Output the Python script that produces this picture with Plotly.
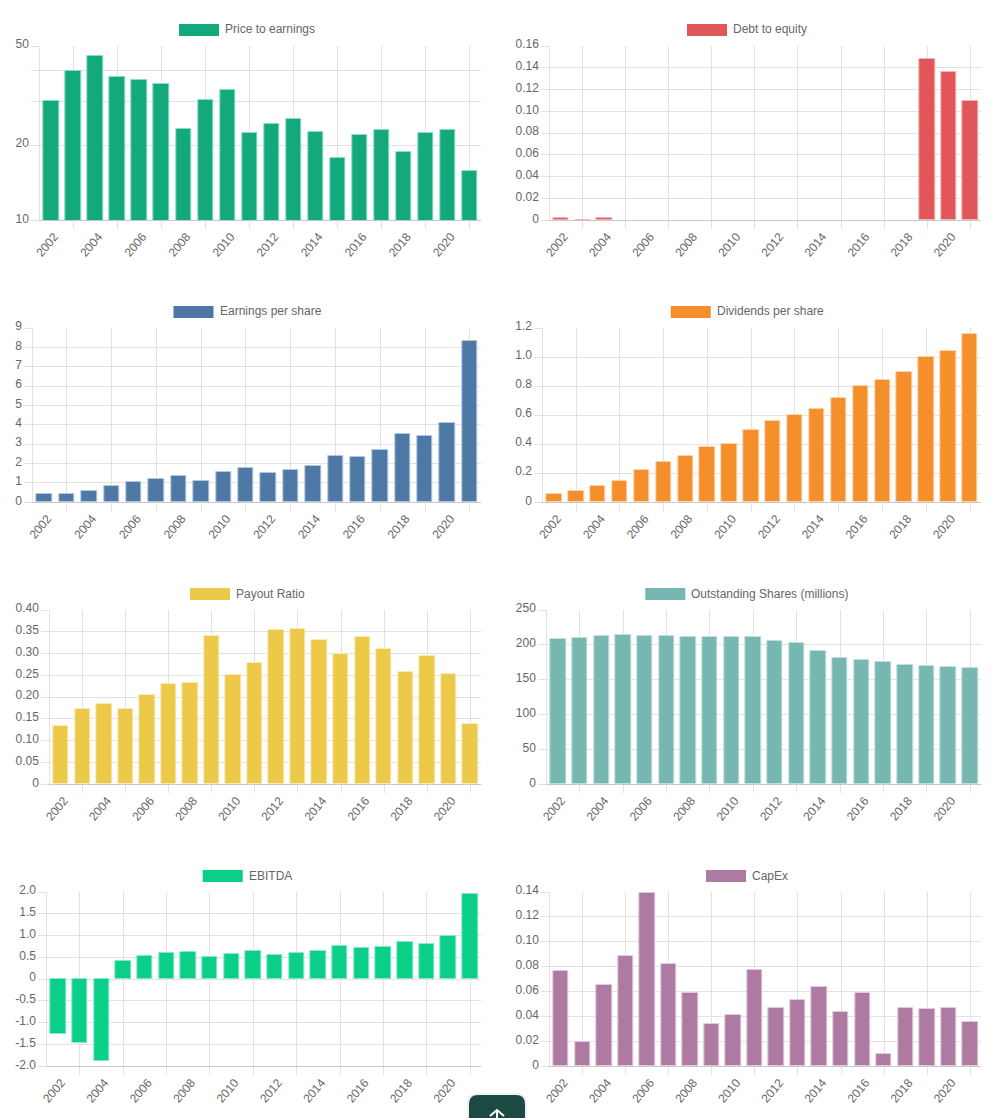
import math
import plotly.graph_objects as go

W, H = 996, 1118
years = list(range(2002, 2022))
grid_years = [y for y in years if y % 2 == 1]
label_years = [y for y in years if y % 2 == 0]
label_text = [str(y) for y in label_years]

price_to_earnings = [30.1, 39.7, 45.7, 37.7, 36.6, 35.2, 23.2, 30.5, 33.4, 22.4,
                     24.3, 25.5, 22.6, 17.8, 22.0, 23.1, 18.8, 22.3, 23.0, 15.8]
debt_to_equity = [0.002, 0.0004, 0.0024, 0, 0, 0, 0, 0, 0, 0,
                  0, 0, 0, 0, 0, 0, 0, 0.148, 0.136, 0.1098]
earnings_per_share = [0.41, 0.43, 0.56, 0.84, 1.05, 1.20, 1.36, 1.08, 1.57, 1.77,
                      1.53, 1.65, 1.86, 2.38, 2.33, 2.69, 3.52, 3.41, 4.09, 8.35]
dividends_per_share = [0.06, 0.08, 0.11, 0.15, 0.22, 0.28, 0.32, 0.38, 0.40, 0.50,
                       0.56, 0.60, 0.64, 0.72, 0.80, 0.84, 0.90, 1.00, 1.04, 1.16]
payout_ratio = [0.134, 0.172, 0.185, 0.173, 0.205, 0.230, 0.232, 0.341, 0.250, 0.278,
                0.355, 0.356, 0.332, 0.299, 0.337, 0.311, 0.257, 0.294, 0.254, 0.138]
outstanding_shares = [207.7, 209.6, 213, 213.5, 212.5, 212.5, 211.6, 211.6, 211.6, 211.6,
                      205.8, 202, 191, 181.8, 179, 176, 170.8, 169, 168.4, 166.5]
ebitda = [-1.26, -1.47, -1.885, 0.408, 0.528, 0.593, 0.624, 0.501, 0.578, 0.655,
          0.563, 0.593, 0.638, 0.762, 0.708, 0.748, 0.846, 0.816, 0.988, 1.955]
capex = [0.0769, 0.0198, 0.0654, 0.089, 0.1388, 0.082, 0.0589, 0.034, 0.0415, 0.0777,
         0.0471, 0.053, 0.064, 0.0436, 0.0587, 0.0101, 0.0471, 0.0461, 0.0471, 0.0359]

pe_ticks = [10, 20, 30, 40, 50]
pe_labels = ["10", "20", "", "", "50"]
de_ticks = [0, 0.02, 0.04, 0.06, 0.08, 0.10, 0.12, 0.14, 0.16]
de_labels = ["0", "0.02", "0.04", "0.06", "0.08", "0.10", "0.12", "0.14", "0.16"]
eps_ticks = [0, 1, 2, 3, 4, 5, 6, 7, 8, 9]
eps_labels = [str(v) for v in eps_ticks]
dps_ticks = [0, 0.2, 0.4, 0.6, 0.8, 1.0, 1.2]
dps_labels = ["0", "0.2", "0.4", "0.6", "0.8", "1.0", "1.2"]
payout_ticks = [0, 0.05, 0.10, 0.15, 0.20, 0.25, 0.30, 0.35, 0.40]
payout_labels = ["0", "0.05", "0.10", "0.15", "0.20", "0.25", "0.30", "0.35", "0.40"]
shares_ticks = [0, 50, 100, 150, 200, 250]
shares_labels = [str(v) for v in shares_ticks]
ebitda_ticks = [-2, -1.5, -1, -0.5, 0, 0.5, 1, 1.5, 2]
ebitda_labels = ["-2.0", "-1.5", "-1.0", "-0.5", "0", "0.5", "1.0", "1.5", "2.0"]
capex_ticks = [0, 0.02, 0.04, 0.06, 0.08, 0.10, 0.12, 0.14]
capex_labels = ["0", "0.02", "0.04", "0.06", "0.08", "0.10", "0.12", "0.14"]

FONT = "Liberation Sans"
TEXT = "#666666"
GRID = "#e2e2e2"
BASE = "#c8c8c8"

charts = [
    dict(name="Price to earnings", v=price_to_earnings, t=pe_ticks, l=pe_labels, color="#13a97d", edge="#8fdcc5", left=40.3, right=481, row=0, sw=179, log=True, r=[10, 50]),
    dict(name="Debt to equity", v=debt_to_equity, t=de_ticks, l=de_labels, color="#e15759", edge="#f2b3b4", left=550.3, right=981, row=0, sw=687, r=[0, 0.16]),
    dict(name="Earnings per share", v=earnings_per_share, t=eps_ticks, l=eps_labels, color="#4e79a7", edge="#b4c8dc", left=33.3, right=481, row=1, sw=173.5, r=[0, 9]),
    dict(name="Dividends per share", v=dividends_per_share, t=dps_ticks, l=dps_labels, color="#f48f2c", edge="#fbd3ac", left=543.3, right=981, row=1, sw=670.7, r=[0, 1.2]),
    dict(name="Payout Ratio", v=payout_ratio, t=payout_ticks, l=payout_labels, color="#ecc948", edge="#f8ebbc", left=50.3, right=481, row=2, sw=190, r=[0, 0.40]),
    dict(name="Outstanding Shares (millions)", v=outstanding_shares, t=shares_ticks, l=shares_labels, color="#76b7b2", edge="#c4e0dd", left=547.3, right=981, row=2, sw=645.3, r=[0, 250]),
    dict(name="EBITDA", v=ebitda, t=ebitda_ticks, l=ebitda_labels, color="#0bcf89", edge="#8aeac8", left=47.3, right=481, row=3, sw=202.7, r=[-2, 2]),
    dict(name="CapEx", v=capex, t=capex_ticks, l=capex_labels, color="#af7aa1", edge="#e0cbdb", left=550.3, right=981, row=3, sw=706, r=[0, 0.14]),
]


def px(x):
    return x / W


def py(y):
    return 1 - y / H


fig = go.Figure()
layout = {}
shapes = []
annotations = []

for i, c in enumerate(charts):
    top = 46 + 282 * c["row"]
    bottom = top + 174.3
    n_main = 2 * i + 1
    n_lab = 2 * i + 2
    cat_px = (c["right"] - c["left"]) / len(years)
    xs = "x" if n_main == 1 else f"x{n_main}"
    ys = "y" if i == 0 else f"y{i + 1}"
    xl = f"x{n_lab}"
    dom_x = [px(c["left"]), px(c["right"])]
    dom_y = [py(bottom), py(top)]
    xrange_ = [years[0] - 0.5, years[-1] + 0.5]

    fig.add_trace(go.Bar(
        x=years, y=[v if v else None for v in c["v"]], xaxis=xs, yaxis=ys, name=c["name"],
        width=15.4 / cat_px,
        marker=dict(color=c["color"], line=dict(color=c["edge"], width=1)),
        showlegend=False,
    ))
    fig.add_trace(go.Scatter(
        x=label_years, y=[c["t"][0]] * len(label_years), xaxis=xl, yaxis=ys,
        mode="markers", marker=dict(opacity=0, size=1), showlegend=False, hoverinfo="skip",
    ))

    key_main = "xaxis" if n_main == 1 else f"xaxis{n_main}"
    key_y = "yaxis" if i == 0 else f"yaxis{i + 1}"
    layout[key_main] = dict(
        domain=dom_x, range=xrange_, anchor=ys, tickmode="array", tickvals=grid_years,
        showticklabels=False, ticks="outside", ticklen=8, tickwidth=1, tickcolor=GRID,
        showgrid=True, gridcolor=GRID, gridwidth=1, zeroline=False,
        showline=True, linecolor=BASE, linewidth=1, automargin=False,
    )
    layout[f"xaxis{n_lab}"] = dict(
        domain=dom_x, range=xrange_, anchor=ys, overlaying=xs, side="bottom",
        tickmode="array", tickvals=label_years, ticktext=label_text,
        tickangle=-50, ticks="", showgrid=False, zeroline=False, showline=False,
        tickfont=dict(family=FONT, size=12, color=TEXT), automargin=False,
        ticklabelstandoff=6, ticklabelshift=3,
    )
    rng = c["r"]
    if c.get("log"):
        rng = [math.log10(rng[0]), math.log10(rng[1])]
    layout[key_y] = dict(
        domain=dom_y, range=rng, anchor=xs, type="log" if c.get("log") else "linear",
        tickmode="array", tickvals=c["t"], ticktext=c["l"],
        ticks="outside", ticklen=8, tickwidth=1, tickcolor=GRID,
        showgrid=True, gridcolor=GRID, gridwidth=1, zeroline=False,
        showline=True, linecolor=GRID, linewidth=1, automargin=False,
        tickfont=dict(family=FONT, size=12, color=TEXT), ticklabelshift=-2,
    )

    ly0 = 24 + 282 * c["row"]
    shapes.append(dict(type="rect", xref="paper", yref="paper", layer="above",
                       x0=px(c["sw"]), x1=px(c["sw"] + 40), y0=py(ly0 + 12), y1=py(ly0),
                       fillcolor=c["color"], line=dict(width=0)))
    annotations.append(dict(text=c["name"], xref="paper", yref="paper",
                            x=px(c["sw"] + 46), y=py(ly0 + 5.5), xanchor="left", yanchor="middle",
                            showarrow=False, xshift=-2,
                            font=dict(family=FONT, size=12, color=TEXT)))


def button_path(x0, x1, y0, y1, r):
    return (f"M {px(x0)} {py(y1)} L {px(x0)} {py(y0 + r)} "
            f"Q {px(x0)} {py(y0)} {px(x0 + r)} {py(y0)} "
            f"L {px(x1 - r)} {py(y0)} Q {px(x1)} {py(y0)} {px(x1)} {py(y0 + r)} "
            f"L {px(x1)} {py(y1)} Z")


# floating scroll-to-top button at the bottom edge, with a soft shadow
shapes.append(dict(type="path", path=button_path(467, 527, 1093, 1122, 11), xref="paper", yref="paper",
                   layer="above", fillcolor="rgba(0,0,0,0.06)", line=dict(width=0)))
shapes.append(dict(type="path", path=button_path(469, 525, 1095, 1122, 9), xref="paper", yref="paper",
                   layer="above", fillcolor="#1b4a44", line=dict(width=0)))
icon = (f"M {px(490)} {py(1116)} L {px(497)} {py(1110)} L {px(504)} {py(1116)} "
        f"M {px(497)} {py(1110)} L {px(497)} {py(1120)}")
shapes.append(dict(type="path", path=icon, xref="paper", yref="paper", layer="above",
                   line=dict(color="#ffffff", width=2)))

fig.update_layout(
    width=W, height=H, autosize=False,
    margin=dict(l=0, r=0, t=0, b=0),
    paper_bgcolor="#ffffff", plot_bgcolor="#ffffff",
    bargap=0, showlegend=False,
    font=dict(family=FONT, size=12, color=TEXT),
    shapes=shapes, annotations=annotations,
    **layout,
)

fig.write_html("out.html", config={"displayModeBar": False},
               post_script="document.body.style.margin='0';document.body.style.overflow='hidden';")
